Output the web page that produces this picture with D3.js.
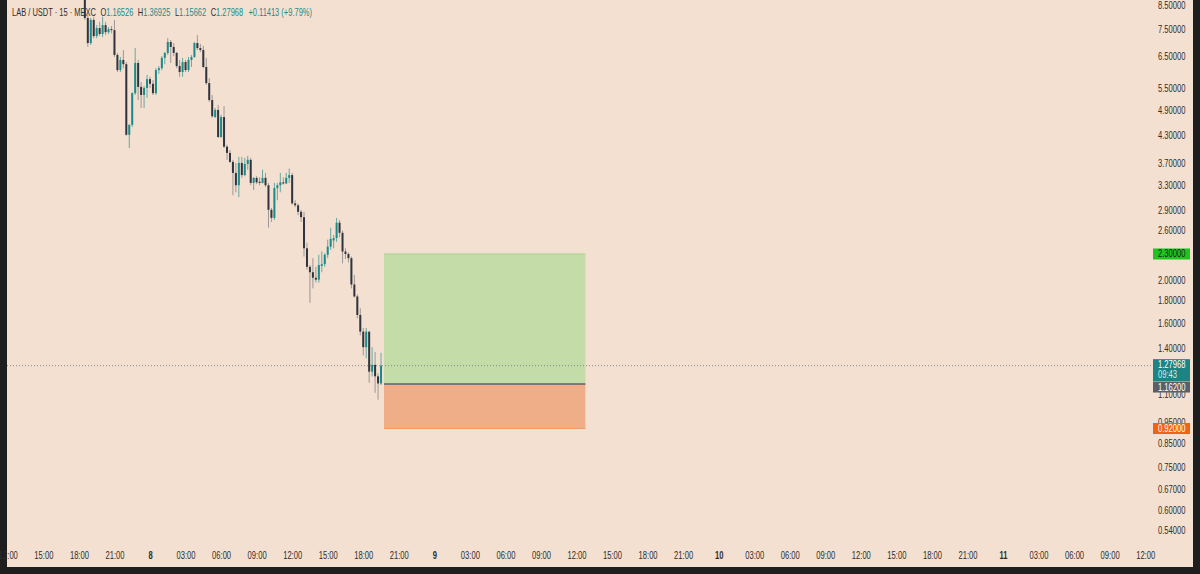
<!DOCTYPE html>
<html>
<head>
<meta charset="utf-8">
<script src="https://cdn.jsdelivr.net/npm/d3@7"></script>
<style>
  html, body { margin: 0; padding: 0; background: #1e1e1e; }
  svg { display: block; font-family: "Liberation Sans", Roboto, sans-serif; }
</style>
</head>
<body>
<svg id="chart"></svg>
<script>
// LAB / USDT 15m candles
const symbol = "LAB / USDT · 15 · MEXC";
const firstBar = Date.UTC(2025, 9, 7, 18, 30);
const barMinutes = 15;

const opens = [8.73, 7.94, 6.96, 7.86, 7.22, 7.53, 7.30, 7.65, 7.37, 7.49,
  7.45, 6.54, 6.04, 6.37, 6.23, 4.30, 4.53, 5.35, 6.27, 5.53,
  5.30, 5.50, 5.76, 5.62, 5.35, 6.04, 6.10, 6.44, 6.61, 7.00,
  6.82, 6.61, 6.17, 5.98, 6.30, 6.04, 6.37, 6.47, 6.96, 6.78,
  6.71, 6.14, 5.64, 5.16, 4.72, 4.90, 4.25, 4.72, 4.04, 3.91,
  3.73, 3.52, 3.30, 3.71, 3.48, 3.69, 3.77, 3.34, 3.43, 3.36,
  3.34, 3.43, 3.30, 2.90, 2.78, 3.25, 3.30, 3.35, 3.33, 3.43,
  3.48, 3.00, 2.97, 2.87, 2.79, 2.37, 2.15, 2.09, 2.03, 2.01,
  2.16, 2.18, 2.29, 2.39, 2.47, 2.50, 2.71, 2.57, 2.33, 2.30,
  2.25, 1.96, 1.84, 1.67, 1.53, 1.41, 1.53, 1.24, 1.285, 1.21,
  1.16526];
const highs = [9.95, 8.07, 7.94, 7.99, 7.65, 7.78, 7.99, 7.78, 7.57, 7.61,
  7.86, 6.61, 6.47, 6.71, 6.30, 4.55, 5.38, 6.78, 6.37, 5.67,
  5.56, 5.89, 5.83, 5.73, 6.10, 6.17, 6.50, 6.64, 7.14, 7.07,
  6.96, 6.64, 6.37, 6.44, 6.37, 6.47, 6.54, 7.00, 7.26, 6.93,
  6.86, 6.44, 5.79, 5.30, 4.95, 5.03, 4.77, 5.00, 4.08, 3.97,
  3.77, 3.71, 3.83, 3.83, 3.81, 3.85, 3.81, 3.44, 3.46, 3.44,
  3.58, 3.52, 3.34, 2.93, 3.34, 3.34, 3.52, 3.44, 3.52, 3.60,
  3.52, 3.05, 3.00, 2.90, 2.87, 2.44, 2.17, 2.25, 2.15, 2.29,
  2.33, 2.31, 2.48, 2.64, 2.54, 2.78, 2.75, 2.60, 2.37, 2.32,
  2.27, 2.06, 1.86, 1.73, 1.56, 1.56, 1.53, 1.41, 1.375, 1.23,
  1.36925];
const lows = [7.86, 6.82, 6.89, 7.14, 7.14, 7.22, 7.18, 7.26, 7.30, 7.33,
  6.47, 5.98, 5.98, 6.10, 4.28, 4.01, 4.48, 5.30, 5.16, 4.95,
  4.95, 5.22, 5.50, 5.30, 5.30, 5.92, 6.04, 6.23, 6.54, 6.27,
  6.50, 6.10, 5.83, 5.83, 5.98, 5.98, 6.14, 6.44, 6.71, 6.64,
  6.10, 5.59, 5.11, 4.70, 4.70, 4.23, 4.23, 4.01, 3.77, 3.71,
  3.13, 3.18, 3.10, 3.43, 3.46, 3.58, 3.30, 3.22, 3.32, 3.30,
  3.33, 3.27, 2.64, 2.72, 2.75, 3.05, 3.18, 3.31, 3.32, 3.34,
  2.98, 2.94, 2.82, 2.72, 2.27, 2.12, 1.78, 1.92, 1.98, 1.98,
  2.09, 2.15, 2.25, 2.35, 2.37, 2.45, 2.51, 2.19, 2.24, 2.20,
  1.92, 1.83, 1.64, 1.50, 1.35, 1.33, 1.17, 1.21, 1.11, 1.07,
  1.15662];
const closes = [7.94, 6.96, 7.86, 7.22, 7.53, 7.30, 7.65, 7.37, 7.49, 7.45,
  6.54, 6.04, 6.37, 6.23, 4.30, 4.53, 5.35, 6.27, 5.53, 5.30,
  5.50, 5.76, 5.62, 5.35, 6.04, 6.10, 6.44, 6.61, 7.00, 6.82,
  6.61, 6.17, 5.98, 6.30, 6.04, 6.37, 6.47, 6.96, 6.78, 6.71,
  6.14, 5.64, 5.16, 4.74, 4.90, 4.25, 4.72, 4.04, 3.91, 3.73,
  3.52, 3.30, 3.71, 3.48, 3.69, 3.77, 3.34, 3.43, 3.35, 3.34,
  3.43, 3.30, 2.90, 2.78, 3.25, 3.30, 3.35, 3.33, 3.43, 3.48,
  3.00, 2.97, 2.87, 2.79, 2.37, 2.15, 2.09, 2.03, 2.01, 2.17,
  2.18, 2.29, 2.39, 2.49, 2.50, 2.71, 2.57, 2.33, 2.30, 2.25,
  1.96, 1.84, 1.67, 1.53, 1.41, 1.53, 1.24, 1.285, 1.21, 1.16555,
  1.27968];

const priceTicks = [8.5, 7.5, 6.5, 5.5, 4.9, 4.3, 3.7, 3.3, 2.9, 2.6, 2.0, 1.8,
  1.6, 1.4, 1.1, 0.95, 0.85, 0.75, 0.67, 0.60, 0.54];

// long position tool
const entryPrice = 1.162;
const targetPrice = 2.30;
const stopPrice = 0.92;
const posStart = Date.UTC(2025, 9, 8, 19, 45);
const posEnd = Date.UTC(2025, 9, 9, 12, 45);
const countdown = "09:43";

const W = 1200, H = 574;
const plotL = 7, plotR = 1152, plotB = 545, frameB = 567, frameR = 1193;
const upCol = "#1b8b89", downCol = "#30343e", textCol = "#2e2e2e";
const fontSize = "10px";
const squeeze = 0.76; // screenshot font is narrower than what we have

const bars = opens.map((o, i) => ({
  t: new Date(firstBar + i * barMinutes * 60000),
  o, h: highs[i], l: lows[i], c: closes[i]
}));

const x = d3.scaleUtc()
  .domain([new Date(Date.UTC(2025, 9, 8)), new Date(Date.UTC(2025, 9, 11))])
  .range([150, 1003]);
const y = d3.scaleLog().domain([0.54, 8.5]).range([530, 5]);

function narrow(sel) {
  sel.each(function () {
    const w = this.getComputedTextLength();
    d3.select(this).attr("textLength", w * squeeze).attr("lengthAdjust", "spacingAndGlyphs");
  });
}

const svg = d3.select("#chart").attr("width", W).attr("height", H);
svg.append("rect").attr("width", W).attr("height", H).attr("fill", "#1e1e1e");
svg.append("rect").attr("x", plotL).attr("y", 0)
  .attr("width", frameR - plotL).attr("height", frameB).attr("fill", "#f3e0d0");

svg.append("clipPath").attr("id", "clip").append("rect")
  .attr("x", plotL).attr("y", 0).attr("width", plotR - plotL).attr("height", plotB);
const plot = svg.append("g").attr("clip-path", "url(#clip)");

// position boxes
const px0 = x(posStart), px1 = x(posEnd);
plot.append("rect").attr("x", px0).attr("width", px1 - px0)
  .attr("y", y(targetPrice)).attr("height", y(entryPrice) - y(targetPrice))
  .attr("fill", "#c4dca8");
plot.append("rect").attr("x", px0).attr("width", px1 - px0)
  .attr("y", y(entryPrice)).attr("height", y(stopPrice) - y(entryPrice))
  .attr("fill", "#efae88");
plot.append("line").attr("x1", px0).attr("x2", px1)
  .attr("y1", y(targetPrice)).attr("y2", y(targetPrice))
  .attr("stroke", "#a9d68e").attr("stroke-width", 1);
plot.append("line").attr("x1", px0).attr("x2", px1)
  .attr("y1", y(stopPrice)).attr("y2", y(stopPrice))
  .attr("stroke", "#f39a62").attr("stroke-width", 1);
plot.append("line").attr("x1", px0).attr("x2", px1)
  .attr("y1", y(entryPrice)).attr("y2", y(entryPrice))
  .attr("stroke", "#5c6270").attr("stroke-width", 1.5);

// last price dotted line
const last = bars[bars.length - 1];
plot.append("line").attr("x1", plotL).attr("x2", plotR)
  .attr("y1", y(last.c)).attr("y2", y(last.c))
  .attr("stroke", "#7f8c8c").attr("stroke-dasharray", "1,2");

// candles
const candle = plot.selectAll("g.bar").data(bars).enter().append("g").attr("class", "bar");
candle.append("line")
  .attr("x1", d => x(d.t)).attr("x2", d => x(d.t))
  .attr("y1", d => y(d.h)).attr("y2", d => y(d.l))
  .attr("stroke", d => d.c >= d.o ? upCol : "#6e7078")
  .attr("stroke-opacity", 0.65).attr("stroke-width", 1);
candle.append("rect")
  .attr("x", d => x(d.t) - 1).attr("width", 2)
  .attr("y", d => y(Math.max(d.o, d.c)))
  .attr("height", d => Math.max(1, Math.abs(y(d.o) - y(d.c))))
  .attr("fill", d => d.c >= d.o ? upCol : downCol);

// price axis
const yAxis = svg.append("g").attr("transform", `translate(${plotR + 6},0)`)
  .call(d3.axisRight(y).tickValues(priceTicks).tickFormat(d3.format(".5f"))
    .tickSize(0).tickPadding(0));
yAxis.select(".domain").remove();
yAxis.selectAll("text").attr("fill", textCol).style("font-size", fontSize).call(narrow);

// time axis
const timeTicks = d3.utcHour.every(3).range(new Date(Date.UTC(2025, 9, 7, 12)),
  new Date(Date.UTC(2025, 9, 11, 13)));
const fmtTime = d3.utcFormat("%H:%M");
const xAxis = svg.append("g").attr("transform", `translate(0,${plotB + 7})`)
  .call(d3.axisBottom(x).tickValues(timeTicks)
    .tickFormat(d => d.getUTCHours() === 0 ? String(d.getUTCDate()) : fmtTime(d))
    .tickSize(0).tickPadding(0));
xAxis.select(".domain").remove();
xAxis.selectAll("text").attr("fill", textCol).style("font-size", fontSize)
  .style("font-weight", d => d.getUTCHours() === 0 ? "bold" : "normal").call(narrow);

// right-side price labels
function priceTag(v, fill, color, extra, shift = 0) {
  const h = extra ? 22 : 11;
  const yc = y(v) + shift;
  const g = svg.append("g");
  g.append("rect").attr("x", plotR + 1).attr("y", yc - 5.5).attr("width", 37)
    .attr("height", h).attr("fill", fill);
  g.append("text").attr("x", plotR + 6).attr("y", yc).attr("dy", "0.35em")
    .attr("fill", color).style("font-size", fontSize).text(d3.format(".5f")(v)).call(narrow);
  if (extra) {
    g.append("text").attr("x", plotR + 6).attr("y", yc + 10).attr("dy", "0.35em")
      .attr("fill", color).attr("fill-opacity", 0.85).style("font-size", fontSize)
      .text(extra).call(narrow);
  }
}
priceTag(targetPrice, "#1fc41f", "#1a1a1a");
priceTag(stopPrice, "#f0640f", "#ffffff");
priceTag(last.c, "#1d8383", "#ffffff", countdown, -1);
priceTag(entryPrice, "#5b6068", "#ffffff", null, 3);

// header legend
const prev = bars[bars.length - 2];
const chg = last.c - prev.c;
const f5 = d3.format(".5f");
const sign = chg >= 0 ? "+" : "";
const legend = svg.append("g").attr("transform", `translate(12,12) scale(${squeeze - 0.01},1)`)
  .append("text").attr("dy", "0.35em").style("font-size", fontSize).attr("fill", textCol);
legend.append("tspan").text(symbol);
[["O", last.o], ["H", last.h], ["L", last.l], ["C", last.c]].forEach(([k, v]) => {
  legend.append("tspan").attr("dx", 6).attr("fill", textCol).text(k);
  legend.append("tspan").attr("fill", upCol).text(f5(v));
});
legend.append("tspan").attr("dx", 7).attr("fill", upCol)
  .text(`${sign}${f5(chg)} (${sign}${(chg / prev.c * 100).toFixed(2)}%)`);
</script>
</body>
</html>
